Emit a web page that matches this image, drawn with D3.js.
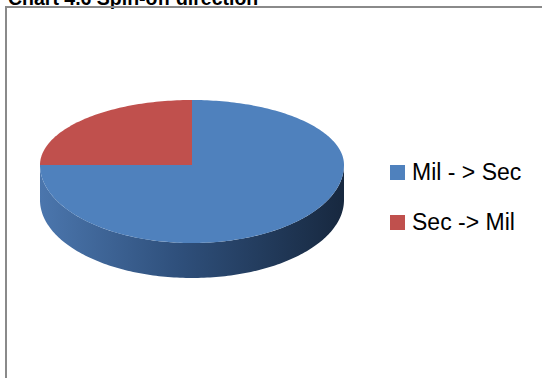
<!DOCTYPE html>
<html>
<head>
<meta charset="utf-8">
<script src="https://cdn.jsdelivr.net/npm/d3@7"></script>
<style>
  body { margin: 0; background: #fff; }
  svg { display: block; }
</style>
</head>
<body>
<div id="chart"></div>
<script>
// size of the page
var width = 542;
var height = 378;

// data
var categories = ["Mil - > Sec", "Sec -> Mil"];
var values = [75, 25];
var colors = ["#4f81bd", "#c0504d"];
var title = "Chart 4.6 Spin-off direction";

// pie geometry (3d look)
var cx = 192, cy = 165;
var rx = 152;
var ryBack = 65, ryFront = 78;
var depth = 35;

var svg = d3.select("#chart")
  .append("svg")
  .attr("width", width)
  .attr("height", height);

// gradient for the side of the pie
var defs = svg.append("defs");
var grad = defs.append("linearGradient")
  .attr("id", "side")
  .attr("gradientUnits", "userSpaceOnUse")
  .attr("x1", cx - rx).attr("x2", cx + rx)
  .attr("y1", 0).attr("y2", 0);
grad.append("stop").attr("offset", 0).attr("stop-color", "#4b76ad");
grad.append("stop").attr("offset", 0.45).attr("stop-color", "#2f507c");
grad.append("stop").attr("offset", 1).attr("stop-color", "#17283f");

// chart frame and title (the top of the title is cut off, as in the source)
svg.append("text")
  .text(title)
  .attr("x", 8)
  .attr("y", 5)
  .attr("font-family", "Liberation Sans, Arial, sans-serif")
  .attr("font-weight", "bold")
  .attr("font-size", 19.5)
  .attr("fill", "#000");

svg.append("path")
  .attr("d", "M6," + height + "V7H" + width)
  .attr("fill", "none")
  .attr("stroke", "#8a8a8a")
  .attr("stroke-width", 2);

var color = d3.scaleOrdinal().domain(categories).range(colors);

var pie = d3.pie().sort(null).value(function(d, i) { return values[i]; });
var arcs = pie(categories);

// point on the rim for angle a (0 = 12 o'clock, clockwise)
function rim(a, dy) {
  var c = Math.cos(a);
  var ry = c > 0 ? ryBack : ryFront;
  return [cx + rx * Math.sin(a), cy - ry * c + (dy || 0)];
}

function arcPoints(a0, a1, dy) {
  var n = Math.max(2, Math.ceil((a1 - a0) / 0.02));
  var pts = [];
  for (var k = 0; k <= n; k++) pts.push(rim(a0 + (a1 - a0) * k / n, dy));
  return pts;
}

var line = d3.line();

// sides (only the front half is visible)
var side = svg.append("g");
arcs.forEach(function(d) {
  var a0 = Math.max(d.startAngle, Math.PI / 2);
  var a1 = Math.min(d.endAngle, 3 * Math.PI / 2);
  if (a1 <= a0) return;
  var pts = arcPoints(a0, a1, 0).concat(arcPoints(a0, a1, depth).reverse());
  side.append("path")
    .attr("d", line(pts) + "Z")
    .attr("fill", d.index === 0 ? "url(#side)" : d3.color(color(d.data)).darker(1));
});

// top faces
svg.append("g")
  .selectAll("path")
  .data(arcs)
  .enter()
  .append("path")
  .attr("d", function(d) {
    return line([[cx, cy]].concat(arcPoints(d.startAngle, d.endAngle, 0))) + "Z";
  })
  .attr("fill", function(d) { return color(d.data); });

// legend
var legend = svg.append("g")
  .selectAll("g")
  .data(categories)
  .enter()
  .append("g")
  .attr("transform", function(d, i) { return "translate(390," + (165 + i * 50) + ")"; });

legend.append("rect")
  .attr("width", 15)
  .attr("height", 15)
  .attr("fill", function(d) { return color(d); });

legend.append("text")
  .text(function(d) { return d; })
  .attr("x", 22)
  .attr("y", 15)
  .attr("font-family", "Liberation Sans, Arial, sans-serif")
  .attr("font-size", 23)
  .attr("fill", "#000");
</script>
</body>
</html>
